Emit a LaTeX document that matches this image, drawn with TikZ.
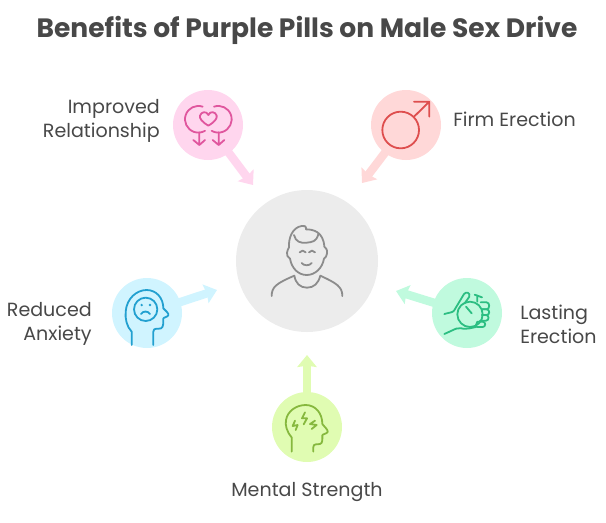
\documentclass[tikz,border=0pt]{standalone}
\usepackage{fontspec}
\setmainfont{Poppins}
\usetikzlibrary{arrows.meta}
\definecolor{inktext}{RGB}{72,72,72}
\definecolor{hubfill}{RGB}{236,236,236}
\definecolor{hubline}{RGB}{140,140,140}
\definecolor{pinkfill}{RGB}{255,214,238}
\definecolor{pinkline}{RGB}{224,86,158}
\definecolor{redfill}{RGB}{255,216,216}
\definecolor{redline}{RGB}{222,78,78}
\definecolor{bluefill}{RGB}{208,244,255}
\definecolor{blueline}{RGB}{34,160,208}
\definecolor{greenfill}{RGB}{192,250,222}
\definecolor{greenline}{RGB}{44,190,130}
\definecolor{limefill}{RGB}{224,252,178}
\definecolor{limeline}{RGB}{134,184,62}
\tikzset{
  dot/.style={circle,minimum size=52.5pt,inner sep=0pt,fill=#1},
  spoke/.style={draw=#1,line width=6.3pt,shorten <=-2pt,-{Stealth[length=9pt,width=14.5pt,inset=1pt]}},
  caption/.style={text=inktext,font=\fontsize{14.3pt}{18pt}\selectfont,inner sep=0pt},
  icon/.style={draw=#1,line width=1.35pt,line cap=round,line join=round},
}
\begin{document}
\begin{tikzpicture}[x=0.75pt,y=0.75pt,yscale=-1,xscale=1]
\useasboundingbox (0,0) rectangle (606,522);

%title
\node [text=inktext,font=\fontsize{19.9pt}{22pt}\selectfont\bfseries,inner sep=0pt] (title) at (307,30) {Benefits of Purple Pills on Male Sex Drive};

%hub
\node [circle,minimum size=106.5pt,inner sep=0pt,fill=hubfill] (hub) at (307,261) {};

%circles
\node [dot=pinkfill] (pink) at (208,125) {};
\node [dot=redfill] (red) at (406,125) {};
\node [dot=bluefill] (blue) at (147,313) {};
\node [dot=greenfill] (green) at (467,313) {};
\node [dot=limefill] (lime) at (307,427) {};

%arrow ends
\coordinate (pinktip) at (253,185);
\coordinate (redtip) at (362,183);
\coordinate (bluetip) at (217,290);
\coordinate (greentip) at (396,291);
\coordinate (limetip) at (307,355);

%arrows
\draw [spoke=pinkfill] (pink) -- (pinktip);
\draw [spoke=redfill] (red) -- (redtip);
\draw [spoke=bluefill] (blue) -- (bluetip);
\draw [spoke=greenfill] (green) -- (greentip);
\draw [spoke=limefill] (lime) -- (limetip);

%labels
\node [caption,align=right,anchor=east] (pinktext) at (160,121) {Improved\\Relationship};
\node [caption,anchor=west] (redtext) at (453,119) {Firm Erection};
\node [caption,align=right,anchor=east] (bluetext) at (92,324) {Reduced\\Anxiety};
\node [caption,align=left,anchor=west] (greentext) at (520,324) {Lasting\\Erection};
\node [caption] (limetext) at (307,492) {Mental Strength};

%person
\begin{scope}[shift={(235,190)},scale=1/3,icon=hubline]
\draw (162,172) .. controls (160,145) and (172,112) .. (200,108) .. controls (208,106) and (214,108) .. (213,118) .. controls (235,118) and (265,125) .. (268,170) .. controls (272,172) and (278,180) .. (276,190) .. controls (274,200) and (270,205) .. (267,206) .. controls (262,235) and (240,255) .. (215,255) .. controls (190,255) and (170,235) .. (165,206) .. controls (158,203) and (155,195) .. (156,188) .. controls (157,180) and (160,176) .. (162,172);
\draw (177,135) .. controls (182,155) and (195,160) .. (215,158) .. controls (232,156) and (245,155) .. (250,132);
\draw (194,187) .. controls (198,180) and (208,180) .. (212,187);
\draw (222,187) .. controls (226,180) and (236,180) .. (240,187);
\draw (200,219) .. controls (206,228) and (224,228) .. (230,219);
\draw (110,318) .. controls (110,290) and (125,280) .. (178,257) .. controls (182,280) and (195,293) .. (216,293) .. controls (237,293) and (250,280) .. (256,257) .. controls (305,280) and (322,290) .. (322,318);
\end{scope}

%pink symbol
\begin{scope}[shift={(160,80)},scale=1/3,icon=pinkline]
\draw (128,80) arc [start angle=-71,end angle=-300,radius=40];
\draw (162,80) arc [start angle=-109,end angle=120,radius=40];
\draw (145,137) .. controls (125,125) and (118,115) .. (120,107) .. controls (123,95) and (140,92) .. (145,105) .. controls (150,92) and (167,95) .. (170,107) .. controls (172,115) and (165,125) .. (145,137) -- cycle;
\draw (118,157) -- (118,195) (100,180) -- (118,195) -- (135,180);
\draw (176,157) -- (176,195) (158,180) -- (176,195) -- (193,180);
\end{scope}

%red symbol
\begin{scope}[shift={(350,80)},scale=1/3,icon=redline]
\draw (152,150) circle [radius=55];
\draw (192,110) -- (238,65) (192,65) -- (238,65) -- (238,110);
\end{scope}

%blue head
\begin{scope}[shift={(105,270)},scale=1/3,icon=blueline]
\draw (80,225) -- (80,185) .. controls (65,170) and (60,145) .. (62,125) .. controls (65,85) and (95,60) .. (125,60) .. controls (155,60) and (175,85) .. (175,115) .. controls (182,122) and (192,130) .. (190,136) .. controls (188,141) and (175,142) .. (175,146) .. controls (175,155) and (176,172) .. (168,175) .. controls (160,178) and (145,172) .. (145,185) -- (145,225);
\draw (122,118) circle [radius=35];
\draw (108,132) .. controls (115,122) and (128,122) .. (135,132);
\fill [blueline,draw=none] (110,105) circle [radius=4] (135,105) circle [radius=4];
\end{scope}

%green hand
\begin{scope}[shift={(390,270)},scale=1/3,icon=greenline]
\draw (240,133) circle [radius=38];
\draw (228,110) -- (245,130);
\draw (262,95) -- (262,76) (254,74) -- (276,82);
\draw (163,132) .. controls (175,128) and (188,128) .. (192,122) -- (222,72) .. controls (228,64) and (242,68) .. (238,80) -- (224,100);
\draw (272,97) -- (290,97) .. controls (300,97) and (300,118) .. (290,118) -- (276,118);
\draw (276,118) -- (290,118) .. controls (300,118) and (300,135) .. (290,135) -- (276,135);
\draw (276,135) -- (288,135) .. controls (298,135) and (298,152) .. (288,152) -- (270,152);
\draw (262,155) -- (278,155) .. controls (288,155) and (288,171) .. (278,171) -- (262,171) .. controls (256,171) and (258,160) .. (262,155);
\draw (163,192) -- (198,176) .. controls (208,170) and (215,178) .. (228,176) .. controls (240,176) and (250,172) .. (258,171);
\end{scope}

%lime head
\begin{scope}[shift={(265,350)},scale=1/3,icon=limeline]
\draw (80,305) -- (80,262) .. controls (65,245) and (60,225) .. (63,210) .. controls (68,182) and (95,165) .. (122,165) .. controls (152,165) and (172,190) .. (172,222) .. controls (178,230) and (190,240) .. (188,246) .. controls (186,251) and (173,252) .. (172,256) .. controls (172,265) and (174,280) .. (165,282) .. controls (155,284) and (145,280) .. (145,292) -- (145,305);
\draw (120,187) -- (111,205) -- (126,205) -- (116,223);
\draw (90,212) -- (83,228) -- (98,225) -- (92,240);
\draw (150,212) -- (135,222) -- (155,225) -- (140,237);
\end{scope}
\end{tikzpicture}
\end{document}
